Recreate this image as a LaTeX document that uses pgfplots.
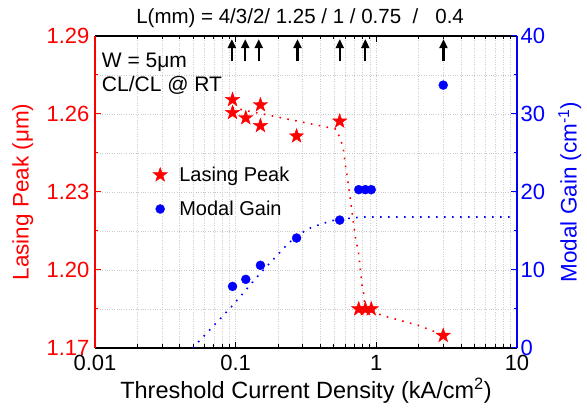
\documentclass[border=0pt]{standalone}
\usepackage{fontspec}
\setmainfont{Liberation Sans}
\usepackage{pgfplots}
\pgfplotsset{compat=1.18}
\usetikzlibrary{arrows.meta,calc}

% filled five-pointed star mark
\pgfdeclareplotmark{fstar}{%
  \pgfpathmoveto{\pgfpointpolar{90}{\pgfplotmarksize}}%
  \pgfpathlineto{\pgfpointpolar{126}{0.4\pgfplotmarksize}}%
  \pgfpathlineto{\pgfpointpolar{162}{\pgfplotmarksize}}%
  \pgfpathlineto{\pgfpointpolar{198}{0.4\pgfplotmarksize}}%
  \pgfpathlineto{\pgfpointpolar{234}{\pgfplotmarksize}}%
  \pgfpathlineto{\pgfpointpolar{270}{0.4\pgfplotmarksize}}%
  \pgfpathlineto{\pgfpointpolar{306}{\pgfplotmarksize}}%
  \pgfpathlineto{\pgfpointpolar{342}{0.4\pgfplotmarksize}}%
  \pgfpathlineto{\pgfpointpolar{18}{\pgfplotmarksize}}%
  \pgfpathlineto{\pgfpointpolar{54}{0.4\pgfplotmarksize}}%
  \pgfpathclose
  \pgfusepathqfillstroke}

\newcommand{\tickf}{\fontsize{22}{26}\selectfont}
\newcommand{\labf}{\fontsize{22.5}{27}\selectfont}
\newcommand{\txtf}{\fontsize{21}{25}\selectfont}

\begin{document}
\begin{tikzpicture}[font=\txtf]
\begin{axis}[
  scale only axis, width=422pt, height=312pt,
  xmode=log, xmin=0.01, xmax=10,
  tick align=inside,
  major tick length=6pt, minor tick length=3.5pt,
  tick label style={font=\tickf},
  label style={font=\labf},
  ymin=1.17, ymax=1.29,
  xtick={0.01,0.1,1,10}, xticklabels={0.01,0.1,1,10},
  minor xtick={0.02,0.03,0.04,0.05,0.06,0.07,0.08,0.09,0.2,0.3,0.4,0.5,0.6,0.7,0.8,0.9,2,3,4,5,6,7,8,9},
  ytick={1.17,1.20,1.23,1.26,1.29}, yticklabels={1.17,1.20,1.23,1.26,1.29},
  minor ytick={1.185,1.215,1.245,1.275},
  ytick pos=left,
  separate axis lines,
  x axis line style={black, line width=1.3pt},
  y axis line style={red, line width=1.3pt},
  x tick style={black, line width=1pt},
  y tick style={red, line width=1pt},
  yticklabel style={red, xshift=-2pt},
  xticklabel style={yshift=-4pt},
  ylabel={Lasing Peak (μm)},
  ylabel style={red, at={(axis description cs:-0.171,0.5)}, anchor=center},
  xlabel={Threshold Current Density (kA/cm\textsuperscript{2})},
  xlabel style={font=\fontsize{23.5}{28}\selectfont, at={(axis description cs:0.5,-0.137)}, anchor=center},
  title={L(mm) = 4/3/2/ 1.25 / 1 / 0.75 \ / \ \ 0.4},
  title style={font=\fontsize{20.5}{24}\selectfont, at={(axis description cs:0.486,1.0224)}, anchor=base},
  grid=both,
  major grid style={gray!40, dotted, line width=0.6pt},
  minor grid style={gray!40, dotted, line width=0.6pt},
  legend style={font=\fontsize{20}{24}\selectfont, draw=none, fill=none,
    at={(axis description cs:0.13,0.5)}, anchor=west,
    row sep=14pt, column sep=10pt, cells={anchor=west}},
]
\coordinate (sw) at (rel axis cs:0,0);
\coordinate (ne) at (rel axis cs:1,1);

% fitted trend (dotted)
\addplot[red, line width=1.6pt, dash pattern=on 1.6pt off 6.4pt, forget plot] coordinates {
  (0.095,1.2625) (0.121,1.2612) (0.159,1.2599) (0.520,1.2542) (0.580,1.2474)
  (0.603,1.2403) (0.626,1.2346) (0.672,1.2224) (0.709,1.2127) (0.748,1.2065)
  (0.791,1.1941) (0.812,1.1911) (0.834,1.1848) (1.156,1.1822) (1.99,1.1787) (2.99,1.1750)
};

\addplot[only marks, mark=fstar, mark size=7.5pt, red, fill=red] coordinates {
  (0.095,1.2655) (0.095,1.2605) (0.118,1.2585) (0.150,1.2635) (0.150,1.2555)
  (0.271,1.2515) (0.549,1.2572) (0.75,1.1850) (0.835,1.1850) (0.92,1.1850) (2.99,1.1748)
};
\addlegendentry{Lasing Peak}
\addlegendimage{only marks, mark=*, mark size=4.5pt, blue}
\addlegendentry{Modal Gain}

% cavity length arrows
\addplot[black, line width=2.2pt, -{Triangle[width=8pt,length=9pt]}, forget plot] coordinates {(0.094,1.2802) (0.094,1.2888)};
\addplot[black, line width=2.2pt, -{Triangle[width=8pt,length=9pt]}, forget plot] coordinates {(0.117,1.2802) (0.117,1.2888)};
\addplot[black, line width=2.2pt, -{Triangle[width=8pt,length=9pt]}, forget plot] coordinates {(0.146,1.2802) (0.146,1.2888)};
\addplot[black, line width=2.2pt, -{Triangle[width=8pt,length=9pt]}, forget plot] coordinates {(0.275,1.2802) (0.275,1.2888)};
\addplot[black, line width=2.2pt, -{Triangle[width=8pt,length=9pt]}, forget plot] coordinates {(0.55,1.2802) (0.55,1.2888)};
\addplot[black, line width=2.2pt, -{Triangle[width=8pt,length=9pt]}, forget plot] coordinates {(0.835,1.2802) (0.835,1.2888)};
\addplot[black, line width=2.2pt, -{Triangle[width=8pt,length=9pt]}, forget plot] coordinates {(3.0,1.2802) (3.0,1.2888)};

\node[anchor=base west, inner sep=0pt] at (rel axis cs:0.016,0.9) {W = 5μm};
\node[anchor=base west, inner sep=0pt] at (rel axis cs:0.016,0.822) {CL/CL @ RT};
\end{axis}

\begin{axis}[
  scale only axis, width=422pt, height=312pt,
  xmode=log, xmin=0.01, xmax=10,
  tick align=inside,
  major tick length=6pt, minor tick length=3.5pt,
  tick label style={font=\tickf},
  label style={font=\labf},
  axis x line=none, xtick=\empty,
  axis y line*=right,
  ymin=0, ymax=40,
  ytick={0,10,20,30,40}, yticklabels={0,10,20,30,40},
  minor ytick={5,15,25,35},
  y axis line style={blue, line width=1.3pt},
  y tick style={blue, line width=1pt},
  yticklabel style={blue},
  ylabel={Modal Gain (cm\textsuperscript{-1})},
  ylabel style={blue, at={(axis description cs:1.125,0.5)}, anchor=center},
]
\addplot[blue, line width=1.6pt, dash pattern=on 1.6pt off 6.4pt] coordinates {
  (0.0495,0) (0.0935,5.3) (0.1466,9.4) (0.239,13.5) (0.314,15.1) (0.36,15.6)
  (0.412,15.9) (0.472,16.3) (0.619,16.6) (0.698,16.7) (0.8,16.8) (10,16.8)
};
\addplot[only marks, mark=*, mark size=4.5pt, blue] coordinates {
  (0.095,7.9) (0.118,8.8) (0.150,10.6) (0.271,14.1) (0.549,16.4)
  (0.75,20.3) (0.835,20.3) (0.92,20.3) (2.99,33.7)
};
\end{axis}

\pgfresetboundingbox
\path[use as bounding box] ($(sw)+(-95pt,-60pt)$) rectangle ($(ne)+(70pt,36pt)$);
\end{tikzpicture}
\end{document}
